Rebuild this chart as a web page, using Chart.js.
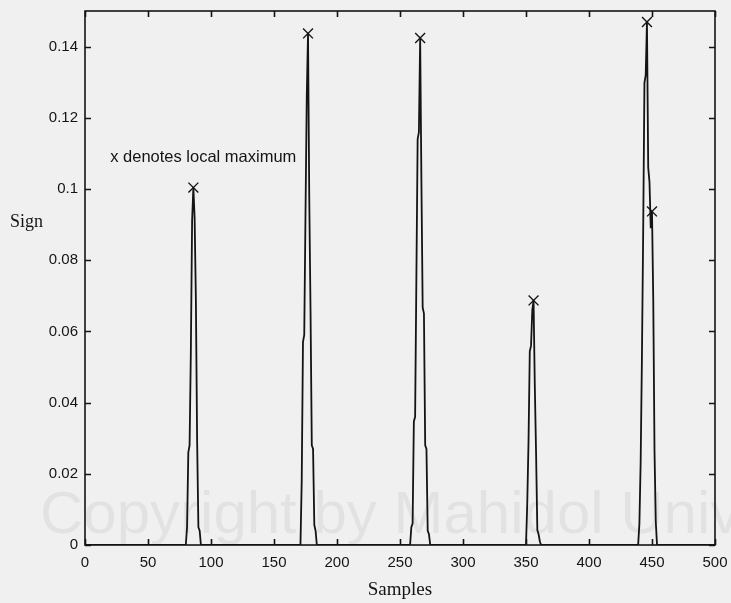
<!DOCTYPE html>
<html>
<head>
<meta charset="utf-8">
<script src="https://cdn.jsdelivr.net/npm/chart.js@4/dist/chart.umd.min.js"></script>
<style>
  html, body { margin: 0; padding: 0; background: #f0f0f0; }
  canvas { display: block; }
</style>
</head>
<body>
<canvas id="c" width="731" height="603"></canvas>
<script>
// Axis ticks
const xTickValues = [0, 50, 100, 150, 200, 250, 300, 350, 400, 450, 500];
const yTickValues = [0, 0.02, 0.04, 0.06, 0.08, 0.1, 0.12, 0.14];
const yTickLabels = ['0', '0.02', '0.04', '0.06', '0.08', '0.1', '0.12', '0.14'];

// Signal: zero everywhere except five narrow pulses (start sample + per-sample values)
const peak1Start = 80;
const peak1Values = [0, 0.005, 0.026, 0.028, 0.054, 0.091, 0.1004, 0.092, 0.069, 0.029, 0.005, 0.004, 0];
const peak2Start = 171;
const peak2Values = [0, 0.018, 0.057, 0.059, 0.093, 0.126, 0.1437, 0.097, 0.0656, 0.028, 0.027, 0.0056, 0.004, 0];
const peak3Start = 258;
const peak3Values = [0, 0.005, 0.006, 0.0347, 0.036, 0.075, 0.114, 0.116, 0.1424, 0.102, 0.0667, 0.065, 0.028, 0.027, 0.004, 0.003, 0];
const peak4Start = 350;
const peak4Values = [0, 0.0118, 0.029, 0.0544, 0.056, 0.066, 0.0687, 0.0445, 0.0258, 0.0042, 0.003, 0.001, 0];
const peak5Start = 439;
const peak5Values = [0, 0.006, 0.0233, 0.0524, 0.088, 0.1298, 0.132, 0.1469, 0.106, 0.102, 0.089, 0.0937, 0.069, 0.0262, 0.0065, 0];

// Samples flagged as local maxima
const maximaSamples = [86, 177, 266, 356, 446, 450];

const xTitle = 'Samples';
const yTitle = 'Sign';
const noteText = 'x denotes local maximum';
const watermarkText = 'Copyright by Mahidol University';

// Assemble the full trace from 0 to 500
const pulses = [
  [peak1Start, peak1Values], [peak2Start, peak2Values], [peak3Start, peak3Values],
  [peak4Start, peak4Values], [peak5Start, peak5Values]
];
const signal = [{ x: 0, y: 0 }];
const valueAt = {};
pulses.forEach(([start, vals]) => {
  vals.forEach((v, i) => { signal.push({ x: start + i, y: v }); valueAt[start + i] = v; });
});
signal.push({ x: 500, y: 0 });
const maxima = maximaSamples.map(s => ({ x: s, y: valueAt[s] }));

const INK = '#141414';

const frame = {
  id: 'frame',
  beforeDraw(chart) {
    const { ctx } = chart;
    ctx.save();
    ctx.fillStyle = 'rgba(0,0,0,0.055)';
    ctx.font = "60px 'Liberation Sans'";
    ctx.textBaseline = 'alphabetic';
    ctx.textAlign = 'left';
    ctx.fillText(watermarkText, 40, 533);
    ctx.restore();
  },
  afterDraw(chart) {
    const { ctx, chartArea: a, scales: { x, y } } = chart;
    ctx.save();
    ctx.strokeStyle = INK;
    ctx.lineWidth = 1.6;
    ctx.strokeRect(a.left, a.top, a.right - a.left, a.bottom - a.top);
    const L = 6;
    ctx.beginPath();
    x.ticks.forEach(t => {
      const px = Math.round(x.getPixelForValue(t.value)) + 0.5;
      ctx.moveTo(px, a.bottom); ctx.lineTo(px, a.bottom - L);
      ctx.moveTo(px, a.top); ctx.lineTo(px, a.top + L);
    });
    y.ticks.forEach(t => {
      const py = Math.round(y.getPixelForValue(t.value)) + 0.5;
      ctx.moveTo(a.left, py); ctx.lineTo(a.left + L, py);
      ctx.moveTo(a.right, py); ctx.lineTo(a.right - L, py);
    });
    ctx.stroke();

    ctx.fillStyle = INK;
    ctx.textBaseline = 'alphabetic';
    ctx.font = "19px 'Liberation Serif'";
    ctx.textAlign = 'center';
    ctx.fillText(xTitle, (a.left + a.right) / 2, 595);
    ctx.textAlign = 'left';
    ctx.font = "18px 'Liberation Serif'";
    ctx.fillText(yTitle, 10, 227);

    ctx.font = "16.5px 'Liberation Sans'";
    ctx.textBaseline = 'middle';
    ctx.fillText(noteText, x.getPixelForValue(20), y.getPixelForValue(0.109));
    ctx.restore();
  }
};

new Chart(document.getElementById('c'), {
  type: 'line',
  data: {
    datasets: [
      {
        data: signal,
        borderColor: INK,
        borderWidth: 1.8,
        pointRadius: 0,
        tension: 0,
        fill: false
      },
      {
        type: 'scatter',
        data: maxima,
        pointStyle: 'crossRot',
        pointRadius: 7,
        borderColor: INK,
        borderWidth: 1.4,
        showLine: false
      }
    ]
  },
  options: {
    responsive: false,
    animation: false,
    devicePixelRatio: 1,
    layout: { padding: { top: 11, right: 16, left: 0, bottom: 0 } },
    plugins: { legend: { display: false }, tooltip: { enabled: false } },
    scales: {
      x: {
        type: 'linear',
        min: 0, max: 500,
        afterBuildTicks: s => { s.ticks = xTickValues.map(v => ({ value: v })); },
        afterFit: s => { s.height = 58; s.paddingLeft = 0; s.paddingRight = 0; },
        grid: { display: false, drawTicks: false },
        border: { display: false },
        ticks: {
          padding: 9,
          color: INK,
          font: { family: 'Liberation Sans', size: 15 },
          callback: v => String(v),
          maxRotation: 0, autoSkip: false
        }
      },
      y: {
        type: 'linear',
        min: 0, max: 0.15,
        afterBuildTicks: s => { s.ticks = yTickValues.map(v => ({ value: v })); },
        afterFit: s => { s.width = 85; s.paddingTop = 0; s.paddingBottom = 0; },
        grid: { display: false, drawTicks: false },
        border: { display: false },
        ticks: {
          padding: 7,
          color: INK,
          font: { family: 'Liberation Sans', size: 15 },
          callback: (v, i) => yTickLabels[i],
          autoSkip: false
        }
      }
    }
  },
  plugins: [frame]
});
</script>
</body>
</html>
